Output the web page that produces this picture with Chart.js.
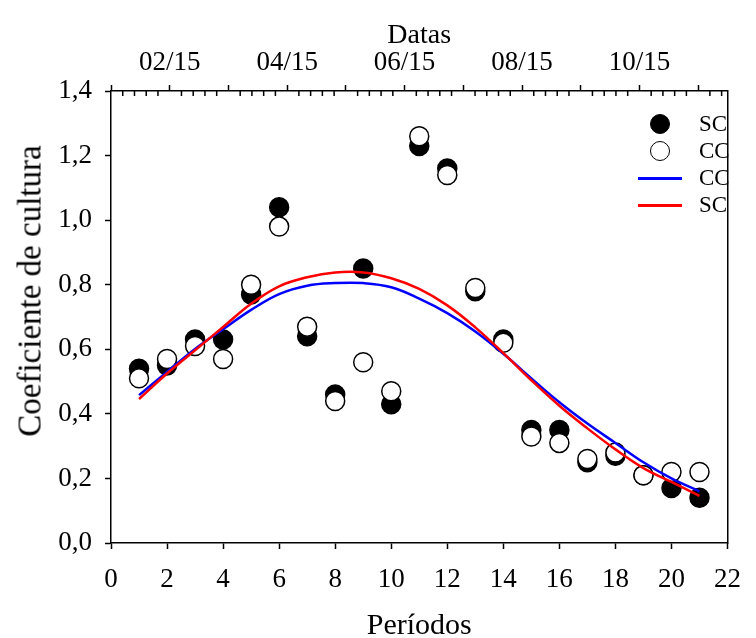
<!DOCTYPE html>
<html>
<head>
<meta charset="utf-8">
<script src="https://cdn.jsdelivr.net/npm/chart.js"></script>
<title>Coeficiente de cultura</title>
<style>
  html, body { margin: 0; padding: 0; background: #fff; }
  #wrap { position: relative; width: 756px; height: 638px; }
  #legend { position: absolute; left: 0; top: 0; font-family: 'Liberation Serif', serif; font-size: 23px; color: #000; }
  .item { position: absolute; left: 636px; height: 28px; display: flex; align-items: center; white-space: nowrap; }
  .mark { width: 48px; height: 28px; display: flex; align-items: center; justify-content: center; }
  .dot { width: 20px; height: 20px; border-radius: 50%; box-sizing: border-box; border: 1.5px solid #000; }
  .bar { width: 44px; height: 3px; }
  .txt { margin-left: 15px; }
  #ytitle { position: absolute; left: 30px; top: 291px; transform: translate(-50%, -50%) rotate(-90deg);
            font-family: 'Liberation Serif', serif; font-size: 33px; color: #000; white-space: nowrap; line-height: 1; }
</style>
</head>
<body>
<div id="wrap">
  <canvas id="chart" width="756" height="638"></canvas>
  <div id="legend"></div>
  <div id="ytitle"></div>
</div>
<script>
  // periodos (eixo inferior)
  const periodos = [1, 2, 3, 4, 5, 6, 7, 8, 9, 10, 11, 12, 13, 14, 15, 16, 17, 18, 19, 20, 21]

  // valores observados
  const scObs = [0.54, 0.55, 0.63, 0.63, 0.77, 1.04, 0.64, 0.46, 0.85, 0.43, 1.23, 1.16, 0.78, 0.63, 0.35, 0.35, 0.25, 0.27, 0.21, 0.17, 0.14]
  const ccObs = [0.51, 0.57, 0.61, 0.57, 0.80, 0.98, 0.67, 0.44, 0.56, 0.47, 1.26, 1.14, 0.79, 0.62, 0.33, 0.31, 0.26, 0.28, 0.21, 0.22, 0.22]

  // curvas ajustadas
  const ccAjuste = [0.458, 0.530, 0.601, 0.662, 0.722, 0.771, 0.797, 0.805, 0.805, 0.792, 0.757, 0.712, 0.655, 0.586, 0.510, 0.436, 0.370, 0.310, 0.250, 0.200, 0.160]
  const scAjuste = [0.446, 0.525, 0.597, 0.669, 0.741, 0.795, 0.823, 0.838, 0.838, 0.820, 0.787, 0.736, 0.668, 0.588, 0.504, 0.425, 0.355, 0.290, 0.232, 0.189, 0.146]

  // eixo superior (datas)
  const datasTicks = [2, 4, 6, 8, 10]
  const datasLabels = ['02/15', '04/15', '06/15', '08/15', '10/15']

  const serif = 'Liberation Serif'
  const tickFont = { family: serif, size: 27 }

  document.getElementById('ytitle').textContent = 'Coeficiente de cultura'

  function pts(ys) {
    return periodos.map((x, i) => ({ x: x, y: ys[i] }))
  }

  const datasets = [{
    label: 'SC',
    data: pts(scObs),
    pointRadius: 9.5,
    pointBackgroundColor: '#000',
    pointBorderColor: '#000',
    pointBorderWidth: 1.5,
    order: 4,
    kind: 'dot'
  }, {
    label: 'CC',
    data: pts(ccObs),
    pointRadius: 9.5,
    pointBackgroundColor: '#fff',
    pointBorderColor: '#000',
    pointBorderWidth: 1.5,
    order: 3,
    kind: 'dot'
  }, {
    label: 'CC',
    data: pts(ccAjuste),
    showLine: true,
    borderColor: '#0000ff',
    borderWidth: 2.5,
    pointRadius: 0,
    tension: 0.4,
    order: 2,
    kind: 'line'
  }, {
    label: 'SC',
    data: pts(scAjuste),
    showLine: true,
    borderColor: '#ff0000',
    borderWidth: 2.5,
    pointRadius: 0,
    tension: 0.4,
    order: 1,
    kind: 'line'
  }]

  const gridOpts = {
    drawOnChartArea: false,
    drawTicks: true,
    tickLength: 6,
    tickWidth: 1.5,
    tickColor: '#000'
  }
  const borderOpts = { color: '#000', width: 1.5 }

  // ticks menores do eixo das datas (para dentro)
  const minorTicks = {
    id: 'minorTicks',
    afterDraw(chart) {
      const s = chart.scales.x2
      const ctx = chart.ctx
      ctx.save()
      ctx.strokeStyle = '#000'
      ctx.lineWidth = 1.5
      ctx.beginPath()
      for (let m = Math.floor(s.min); m < s.max; m++) {
        for (let k = 1; k < 5; k++) {
          const v = m + k * 0.2
          if (v >= s.max) break
          const px = s.getPixelForValue(v)
          ctx.moveTo(px, s.bottom)
          ctx.lineTo(px, s.bottom + 5)
        }
      }
      ctx.stroke()
      ctx.restore()
    }
  }

  new Chart(document.getElementById('chart'), {
    type: 'scatter',
    data: { datasets: datasets },
    plugins: [minorTicks],
    options: {
      responsive: false,
      animation: false,
      layout: { padding: 0 },
      plugins: {
        legend: { display: false },
        tooltip: { enabled: false }
      },
      scales: {
        x: {
          type: 'linear',
          position: 'bottom',
          min: 0,
          max: 22,
          ticks: { stepSize: 2, color: '#000', font: tickFont, padding: 15, maxRotation: 0 },
          grid: gridOpts,
          border: borderOpts,
          title: { display: true, text: 'Períodos', color: '#000', font: { family: serif, size: 30 }, padding: { top: 0, bottom: -6 } },
          afterFit(s) { s.height = 95 }
        },
        x2: {
          type: 'linear',
          position: 'top',
          min: 1,
          max: 11.5,
          ticks: {
            stepSize: 1,
            autoSkip: false,
            includeBounds: false,
            maxRotation: 0,
            minRotation: 0,
            color: '#000',
            font: tickFont,
            padding: 6,
            callback: function (v) {
              const i = datasTicks.indexOf(v)
              return i >= 0 ? datasLabels[i] : ''
            }
          },
          grid: gridOpts,
          border: borderOpts,
          title: { display: true, text: 'Datas', color: '#000', font: { family: serif, size: 28 }, padding: { top: 19, bottom: 0 } },
          afterFit(s) { s.height = 91 }
        },
        y: {
          min: 0,
          max: 1.4,
          ticks: {
            stepSize: 0.2,
            color: '#000',
            font: tickFont,
            padding: 13,
            callback: v => v.toFixed(1).replace('.', ',')
          },
          grid: gridOpts,
          border: borderOpts,
          afterFit(s) { s.width = 111 }
        },
        y2: {
          position: 'right',
          min: 0,
          max: 1.4,
          ticks: { display: false },
          grid: { drawOnChartArea: false, drawTicks: false },
          border: borderOpts,
          afterFit(s) { s.width = 17 }
        }
      }
    }
  })

  // legenda dentro da area do grafico
  const legend = document.getElementById('legend')
  datasets.forEach(function (d, i) {
    const item = document.createElement('div')
    item.className = 'item'
    item.style.top = (110 + i * 27) + 'px'
    const mark = document.createElement('div')
    mark.className = 'mark'
    const sym = document.createElement('div')
    if (d.kind === 'dot') {
      sym.className = 'dot'
      sym.style.background = d.pointBackgroundColor
    } else {
      sym.className = 'bar'
      sym.style.background = d.borderColor
    }
    mark.appendChild(sym)
    const txt = document.createElement('span')
    txt.className = 'txt'
    txt.textContent = d.label
    item.appendChild(mark)
    item.appendChild(txt)
    legend.appendChild(item)
  })
</script>
</body>
</html>
